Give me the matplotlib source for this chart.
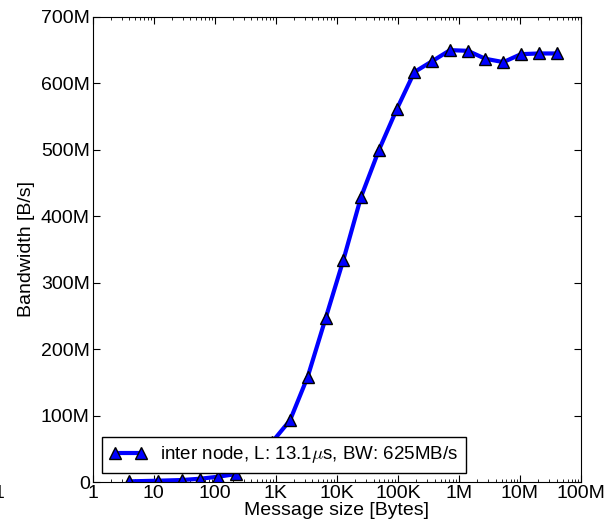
import matplotlib
matplotlib.use("Agg")
import matplotlib.pyplot as plt
from matplotlib.ticker import FixedLocator, FixedFormatter, LogLocator, NullFormatter

plt.rcParams['font.family'] = ['Liberation Sans', 'DejaVu Sans']
plt.rcParams['mathtext.fontset'] = 'cm'

# message sizes (bytes) and bandwidth (B/s)
sizes = [4, 12, 29, 58, 115, 224, 442, 871, 1718, 3343, 6593, 12800, 24950,
         49200, 95900, 186200, 359000, 716000, 1.396e6, 2.71e6, 5.35e6,
         10.4e6, 20.5e6, 40e6]
bandwidth_M = [1, 2, 3, 5, 8, 12, 33, 60, 93, 158.5, 247, 334, 429, 500, 561,
               617, 633, 650, 649, 637, 632, 644, 645, 645]
bandwidth = [v * 1e6 for v in bandwidth_M]

series_label = r"inter node, L: 13.1$\mu$s, BW: 625MB/s"
x_tick_vals = [1, 10, 100, 1e3, 1e4, 1e5, 1e6, 1e7, 1e8]
x_tick_labels = ["1", "10", "100", "1K", "10K", "100K", "1M", "10M", "100M"]
y_tick_vals = [0, 100e6, 200e6, 300e6, 400e6, 500e6, 600e6, 700e6]
y_tick_labels = ["0", "100M", "200M", "300M", "400M", "500M", "600M", "700M"]

fig = plt.figure(figsize=(6.11, 5.29), dpi=100)
ax = fig.add_axes([0.1514, 0.0888, 0.951 - 0.1514, 0.968 - 0.0888])

ax.plot(sizes, bandwidth, color='#0000ff', linewidth=3, marker='^',
        markersize=9, markerfacecolor='#0000ff', markeredgecolor='black',
        markeredgewidth=1, label=series_label)

ax.set_xscale('log')
ax.set_xlim(1, 1e8)
ax.set_ylim(0, 700e6)

ax.xaxis.set_major_locator(FixedLocator(x_tick_vals))
ax.xaxis.set_major_formatter(FixedFormatter(x_tick_labels))
ax.xaxis.set_minor_locator(LogLocator(base=10, subs=range(2, 10), numticks=20))
ax.xaxis.set_minor_formatter(NullFormatter())
ax.yaxis.set_major_locator(FixedLocator(y_tick_vals))
ax.yaxis.set_major_formatter(FixedFormatter(y_tick_labels))

ax.tick_params(which='both', direction='in', top=True, right=True,
               labelsize=14, pad=2)
ax.tick_params(which='major', length=5, width=0.8)
ax.tick_params(which='minor', length=2.5, width=0.6)

ax.set_xlabel("Message size [Bytes]", fontsize=14, labelpad=0)
ax.set_ylabel("Bandwidth [B/s]", fontsize=14, labelpad=4)

leg = ax.legend(loc='lower left', fontsize=13.5, numpoints=2, fancybox=False,
                framealpha=1, edgecolor='black', borderaxespad=0.5,
                handlelength=2.0, handletextpad=0.7, borderpad=0.4)
leg.get_frame().set_linewidth(1.0)

fig.text(-0.002, 0.067, "1", fontsize=14, ha='center', va='center')

fig.savefig("out.png", dpi=100)
